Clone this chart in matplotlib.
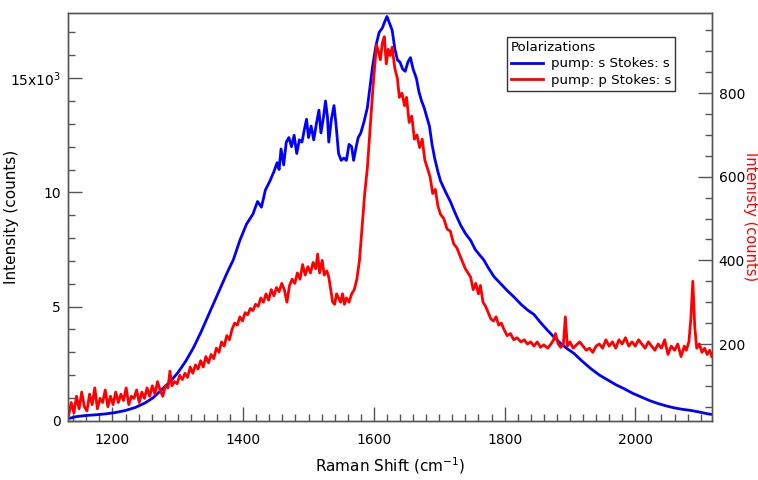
import matplotlib
matplotlib.use("Agg")
import matplotlib.pyplot as plt
import numpy as np
from matplotlib.ticker import MultipleLocator, FuncFormatter

# pump s / Stokes s  (left axis, counts)
shiftS = [1133, 1145, 1160, 1175, 1190, 1205, 1220, 1235, 1250, 1262, 1275, 1288, 1300, 1312, 1324,
          1335, 1345, 1355, 1365, 1375, 1385, 1395, 1405, 1415, 1422, 1428, 1434, 1441, 1447, 1452,
          1455, 1458, 1462, 1466, 1470, 1474, 1478, 1482, 1486, 1490, 1494, 1497, 1500, 1504, 1508,
          1512, 1516, 1519, 1523, 1526, 1529, 1531, 1535, 1539, 1542, 1546, 1550, 1554, 1558, 1562,
          1566, 1569, 1573, 1576, 1580, 1585, 1590, 1594, 1598, 1603, 1608, 1613, 1617, 1620, 1624,
          1628, 1632, 1636, 1640, 1644, 1648, 1652, 1656, 1660, 1665, 1669, 1673, 1677, 1681, 1685,
          1689, 1693, 1698, 1702, 1710, 1717, 1725, 1733, 1740, 1748, 1755, 1762, 1768, 1775, 1784,
          1794, 1804, 1815, 1825, 1835, 1845, 1855, 1866, 1876, 1886, 1896, 1906, 1919, 1932, 1945,
          1958, 1970, 1983, 1996, 2009, 2022, 2034, 2047, 2060, 2072, 2085, 2098, 2111, 2116]
countsS = [100, 180, 230, 260, 300, 360, 450, 580, 780, 1000, 1350, 1700, 2100, 2600, 3200,
           3850, 4500, 5150, 5800, 6450, 7050, 7900, 8600, 9050, 9600, 9350, 10100, 10500, 10900, 11300,
           11000, 11900, 11200, 12200, 12400, 12000, 12500, 11700, 12300, 12200, 12800, 13200, 12400, 12900, 12300,
           13000, 13600, 12600, 13300, 14000, 13300, 12200, 13200, 13800, 13000, 11700, 11400, 11500, 11400, 12100,
           12000, 11400, 12000, 12400, 12600, 13100, 13700, 14600, 15500, 16400, 17000, 17200, 17500, 17700, 17400,
           17100, 16300, 15800, 15700, 15400, 15300, 15700, 15900, 15400, 15000, 14400, 14000, 13700, 13300, 12900,
           12100, 11500, 10900, 10500, 10000, 9600, 9050, 8550, 8200, 7900, 7500, 7250, 7050, 6700, 6300,
           6000, 5700, 5400, 5100, 4850, 4650, 4300, 3950, 3650, 3380, 3150, 2950, 2600, 2280, 2000,
           1780, 1580, 1400, 1200, 1040, 880, 760, 650, 560, 500, 450, 380, 300, 280]

# pump p / Stokes s  (right axis, counts)
shiftP = [1133, 1137, 1141, 1145, 1149, 1153, 1157, 1161, 1165, 1169, 1173, 1177, 1181, 1185, 1189,
          1193, 1197, 1201, 1205, 1209, 1213, 1217, 1221, 1225, 1229, 1233, 1237, 1241, 1245, 1249,
          1253, 1257, 1261, 1265, 1269, 1273, 1277, 1281, 1285, 1288, 1291, 1295, 1299, 1303, 1307,
          1311, 1315, 1319, 1323, 1327, 1331, 1335, 1339, 1343, 1347, 1351, 1355, 1359, 1363, 1367,
          1371, 1375, 1379, 1383, 1387, 1391, 1395, 1399, 1403, 1407, 1411, 1415, 1419, 1423, 1427,
          1431, 1435, 1439, 1443, 1447, 1451, 1455, 1459, 1463, 1467, 1471, 1475, 1479, 1483, 1487,
          1491, 1495, 1499, 1503, 1507, 1511, 1514, 1517, 1521, 1524, 1528, 1531, 1534, 1537, 1540,
          1543, 1546, 1549, 1552, 1555, 1558, 1562, 1566, 1570, 1574, 1578, 1582, 1586, 1590, 1594,
          1598, 1601, 1604, 1607, 1610, 1613, 1616, 1619, 1622, 1625, 1628, 1632, 1636, 1639, 1643,
          1647, 1650, 1654, 1658, 1662, 1666, 1670, 1674, 1678, 1682, 1686, 1690, 1694, 1698, 1702,
          1707, 1712, 1717, 1722, 1727, 1732, 1736, 1740, 1744, 1748, 1752, 1756, 1760, 1763, 1767,
          1771, 1775, 1779, 1783, 1787, 1791, 1795, 1799, 1804, 1809, 1814, 1819, 1825, 1830, 1835,
          1840, 1845, 1850, 1855, 1860, 1866, 1871, 1875, 1878, 1882, 1886, 1890, 1893, 1896, 1900,
          1905, 1910, 1915, 1920, 1925, 1930, 1935, 1940, 1945, 1950, 1955, 1960, 1965, 1970, 1975,
          1980, 1985, 1990, 1995, 2000, 2005, 2010, 2015, 2020, 2025, 2030, 2035, 2040, 2045, 2050,
          2055, 2060, 2065, 2070, 2075, 2078, 2082, 2085, 2088, 2091, 2094, 2098, 2102, 2106, 2110,
          2114, 2117]
countsP = [30, 60, 35, 75, 45, 85, 50, 40, 80, 55, 95, 45, 70, 60, 90,
           50, 75, 55, 85, 60, 80, 65, 95, 55, 75, 70, 90, 60, 85, 70,
           95, 75, 100, 80, 110, 90, 75, 100, 95, 135, 100, 110, 105, 125, 115,
           130, 120, 145, 130, 150, 140, 160, 145, 170, 155, 175, 165, 190, 180, 205,
           195, 220, 210, 235, 250, 245, 265, 255, 275, 270, 285, 280, 295, 290, 310,
           300, 320, 305, 330, 315, 335, 325, 345, 330, 300, 340, 355, 345, 370, 355,
           390, 365, 385, 370, 395, 380, 415, 370, 400, 365, 375, 360, 330, 300, 295,
           320, 310, 300, 320, 295, 310, 300, 320, 330, 355, 400, 480, 560, 620, 710,
           800, 860, 915, 900, 880, 920, 935, 870, 905, 890, 910, 860, 835, 790, 800,
           770, 790, 730, 745, 690, 700, 670, 690, 640, 620, 600, 560, 570, 530, 510,
           500, 475, 470, 440, 430, 410, 395, 380, 370, 360, 330, 345, 320, 340, 300,
           290, 275, 260, 255, 265, 245, 250, 235, 220, 225, 210, 215, 205, 210, 200,
           205, 195, 205, 192, 198, 190, 200, 210, 225, 200, 192, 200, 265, 195, 205,
           190, 198, 205, 195, 185, 190, 180, 195, 200, 190, 210, 195, 205, 190, 210,
           200, 215, 195, 205, 195, 210, 200, 190, 205, 195, 185, 200, 190, 210, 175,
           195, 185, 200, 170, 195, 185, 205, 260, 350, 240, 190, 200, 180, 190, 175,
           185, 170]

plt.rcParams['font.family'] = ['DejaVu Sans']
plt.rcParams['font.size'] = 11

fig = plt.figure(figsize=(7.58, 4.8), dpi=100)
ax = fig.add_axes([0.0897, 0.1235, 0.8493, 0.8488])
ax2 = ax.twinx()

lineS, = ax.plot(shiftS, countsS, color='#0000ff', lw=2.0, label='pump: s Stokes: s')
lineP, = ax2.plot(shiftP, countsP, color='#ff0000', lw=2.0, label='pump: p Stokes: s')

ax.set_xlim(1132, 2117)
ax.set_ylim(0, 17840)
ax2.set_ylim(16.5, 991)

ax.xaxis.set_major_locator(MultipleLocator(200))
ax.xaxis.set_minor_locator(MultipleLocator(20))
ax.yaxis.set_major_locator(MultipleLocator(5000))
ax.yaxis.set_minor_locator(MultipleLocator(1000))
ax2.yaxis.set_major_locator(MultipleLocator(200))
ax2.yaxis.set_minor_locator(MultipleLocator(50))


def leftFmt(v, pos):
    k = int(round(v / 1000))
    if k == 15:
        return r'15x10$^3$'
    return str(k)


ax.yaxis.set_major_formatter(FuncFormatter(leftFmt))

for a in (ax, ax2):
    a.tick_params(which='major', direction='in', length=10, width=1, color='#555555', labelsize=10)
    a.tick_params(which='minor', direction='in', length=5, width=1, color='#555555')
    for s in a.spines.values():
        s.set_color('#555555')
        s.set_linewidth(1.0)
ax.tick_params(axis='y', right=False, which='both', pad=5)
ax.tick_params(axis='x', pad=9)
ax2.tick_params(axis='y', left=False, which='both', pad=5)

ax.set_xlabel('Raman Shift (cm$^{-1}$)', fontsize=11, labelpad=6)
ax.set_ylabel('Intensity (counts)', fontsize=11)
ax.yaxis.set_label_coords(-0.076, 0.5)
ax2.set_ylabel('Intenisty (counts)', fontsize=10.5, color='#ff0000', rotation=270, va='center')
ax2.yaxis.set_label_coords(1.0595, 0.5)

leg = ax2.legend(handles=[lineS, lineP], title='Polarizations', loc='upper right',
                 bbox_to_anchor=(0.943, 0.942), fancybox=False, framealpha=1,
                 edgecolor='#333333', fontsize=9.6, title_fontsize=9.6,
                 handlelength=2.4, borderpad=0.3, labelspacing=0.25, handletextpad=0.6,
                 borderaxespad=0)
leg._legend_box.align = 'left'
leg.get_frame().set_linewidth(1.0)

fig.savefig('out.png', dpi=100)
